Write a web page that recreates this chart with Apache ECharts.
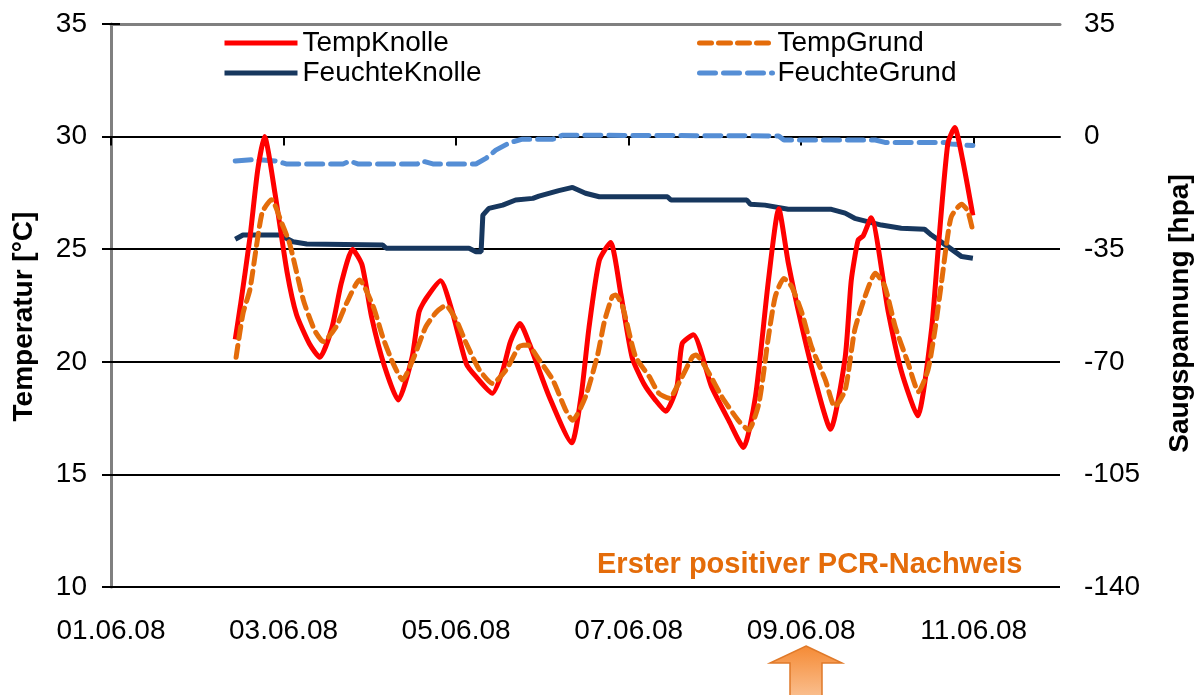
<!DOCTYPE html>
<html>
<head>
<meta charset="utf-8">
<script src="https://cdn.jsdelivr.net/npm/echarts@6/dist/echarts.min.js"></script>
<style>
  html, body { margin: 0; padding: 0; background: #fff; }
  #chart { width: 1202px; height: 695px; }
</style>
</head>
<body>
<div id="chart"></div>
<script>
// x = Tage seit 01.06.08
var dateLabels = ['01.06.08', '03.06.08', '05.06.08', '07.06.08', '09.06.08', '11.06.08'];

var tempKnolleDays = [1.44,1.50,1.61,1.70,1.78,1.90,2.04,2.15,2.30,2.42,2.56,2.67,2.80,2.91,3.02,3.17,3.33,3.49,3.57,3.65,3.82,3.95,4.12,4.24,4.42,4.54,4.63,4.74,4.85,5.08,5.34,5.45,5.54,5.66,5.79,5.91,6.04,6.18,6.31,6.43,6.56,6.62,6.75,6.96,7.16,7.33,7.47,7.62,7.74,7.85,8.00,8.16,8.34,8.51,8.58,8.66,8.72,8.81,9.01,9.16,9.35,9.51,9.59,9.70,9.78,9.87,9.99];
var tempKnolle = [21.0,22.5,25.5,28.5,30.0,27.5,24.0,22.1,20.8,20.2,21.5,23.5,25.0,24.3,22.0,19.8,18.3,20.2,22.2,22.8,23.6,22.3,19.9,19.3,18.6,19.6,20.9,21.7,20.8,18.45,16.4,18.5,21.5,24.5,25.3,23.0,20.2,19.0,18.3,17.8,18.9,20.8,21.2,18.9,17.4,16.2,18.45,23.6,26.8,24.4,21.7,19.2,17.0,20.2,23.6,25.4,25.6,26.4,22.2,19.6,17.6,21.4,25.1,29.7,30.4,29.0,26.5];

var tempGrundDays = [1.45,1.53,1.61,1.75,1.86,1.98,2.07,2.23,2.36,2.46,2.61,2.73,2.88,3.04,3.15,3.27,3.38,3.50,3.65,3.77,3.88,4.00,4.12,4.27,4.42,4.58,4.73,4.83,4.96,5.12,5.27,5.35,5.50,5.64,5.72,5.81,5.85,5.93,6.08,6.24,6.35,6.47,6.58,6.74,6.78,6.93,7.08,7.27,7.39,7.51,7.62,7.70,7.80,7.89,8.01,8.12,8.28,8.39,8.51,8.62,8.74,8.86,8.97,9.09,9.24,9.36,9.47,9.55,9.63,9.68,9.74,9.86,9.93,9.99];
var tempGrund = [20.2,22.15,23.2,26.6,27.2,26.15,25.26,22.74,21.4,20.9,21.56,22.6,23.63,22.45,21.1,19.93,19.2,20.1,21.56,22.2,22.5,21.86,20.8,19.64,19.04,19.64,20.67,20.75,20.1,19.2,17.86,17.4,18.45,20.3,21.8,22.9,22.97,22.45,20.23,19.34,18.6,18.38,19.04,20.23,20.3,19.5,18.45,17.4,16.97,18.16,21.1,22.9,23.7,23.34,22.15,20.67,19.2,18.0,18.75,21.4,22.9,23.93,23.34,21.56,19.93,18.67,19.64,21.4,23.63,25.1,26.44,27.0,26.7,25.8];

var feuchteKnolleDays = [1.44,1.53,1.96,2.11,2.27,3.15,3.19,4.15,4.23,4.29,4.31,4.38,4.54,4.69,4.89,4.96,5.19,5.35,5.50,5.66,6.45,6.49,7.37,7.41,7.58,7.85,8.35,8.51,8.62,8.93,9.16,9.43,9.51,9.70,9.86,9.99];
var feuchteKnolle = [-31.9,-30.6,-30.6,-32.7,-33.4,-33.7,-34.7,-34.7,-35.8,-35.8,-24.4,-22.3,-21.3,-19.7,-19.2,-18.5,-16.8,-15.8,-17.6,-18.7,-18.7,-19.7,-19.7,-21.0,-21.3,-22.6,-22.6,-23.8,-25.4,-27.5,-28.5,-28.8,-30.6,-34.2,-37.3,-37.8];

var feuchteGrundDays = [1.44,1.65,1.92,2.03,2.69,2.77,2.86,3.55,3.61,3.73,4.23,4.35,4.46,4.62,4.77,5.12,5.23,5.66,7.74,7.80,8.86,8.97,9.66,9.74,9.99];
var feuchteGrund = [-7.6,-7.1,-7.6,-8.5,-8.5,-7.6,-8.5,-8.5,-7.6,-8.5,-8.5,-6.7,-4.2,-1.9,-0.8,-0.8,0.4,0.4,0.2,-1.05,-1.05,-1.8,-1.8,-2.3,-2.8];

function pairs(xs, ys) {
  return xs.map(function (x, i) { return [x, ys[i]]; });
}

var font = "'Liberation Sans', Arial, sans-serif";
var legendBase = {
  orient: 'vertical', top: 24,
  itemWidth: 73, itemHeight: 14, itemGap: 2,
  itemStyle: { color: 'rgba(0,0,0,0)', borderWidth: 0 },
  lineStyle: { width: 5 },
  textStyle: { fontSize: 28, color: '#000', lineHeight: 28, fontFamily: font }
};
var myChart = echarts.init(document.getElementById('chart'));
var option = {
  animation: false,
  textStyle: { fontFamily: font },
  legend: [
    Object.assign({}, legendBase, { left: 217, data: ['TempKnolle', 'FeuchteKnolle'] }),
    Object.assign({}, legendBase, { left: 692, data: ['TempGrund', 'FeuchteGrund'] })
  ],
  grid: { left: 111, right: 140, top: 24, bottom: 108 },
  xAxis: [
    {
      type: 'value', min: 0, max: 11, interval: 2,
      axisLine: { show: true, lineStyle: { color: '#000', width: 2 } },
      axisTick: { show: true, length: 9, lineStyle: { color: '#000', width: 2 } },
      axisLabel: {
        fontSize: 28, color: '#000', margin: 30, showMaxLabel: false,
        formatter: function (v) { return dateLabels[v / 2] || ''; }
      },
      splitLine: { show: false }
    },
    {
      type: 'value', position: 'top', min: 0, max: 11,
      axisLine: { show: true, lineStyle: { color: '#808080', width: 3 } },
      axisTick: { show: false }, axisLabel: { show: false }, splitLine: { show: false }
    }
  ],
  yAxis: [
    {
      type: 'value', min: 10, max: 35, interval: 5,
      name: 'Temperatur [°C]', nameLocation: 'middle', nameGap: 73,
      nameTextStyle: { fontSize: 28, fontWeight: 'bold', color: '#000', padding: [0, 22, 0, 0] },
      axisLine: { show: true, lineStyle: { color: '#111', width: 2 } },
      axisTick: { show: true, length: 9, lineStyle: { color: '#000', width: 2 } },
      axisLabel: { fontSize: 28, color: '#000', margin: 24 },
      splitLine: { show: true, lineStyle: { color: '#000', width: 2 } }
    },
    {
      type: 'value', min: -140, max: 35, interval: 35, position: 'right',
      name: 'Saugspannung [hpa]', nameLocation: 'middle', nameGap: 106,
      nameTextStyle: { fontSize: 28, fontWeight: 'bold', color: '#000', padding: [0, 16, 0, 0] },
      axisLine: { show: true, lineStyle: { color: '#808080', width: 3 } },
      axisTick: { show: true, length: 9, lineStyle: { color: '#000', width: 2 } },
      axisLabel: { fontSize: 28, color: '#000', margin: 24 },
      splitLine: { show: false }
    }
  ],
  graphic: [
    {
      type: 'text', left: 597, top: 550, z: 10,
      style: { text: 'Erster positiver PCR-Nachweis', fill: '#E46C0A', font: 'bold 29px ' + font }
    },
    {
      type: 'polygon', z: 10,
      shape: { points: [[806, 646], [842, 663], [822, 663], [822, 700], [790, 700], [790, 663], [770, 663]] },
      style: {
        fill: new echarts.graphic.LinearGradient(0, 0, 0, 1, [
          { offset: 0, color: '#F58A34' },
          { offset: 1, color: '#FAC396' }
        ]),
        stroke: '#E07A2A', lineWidth: 1.5
      }
    }
  ],
  series: [
    {
      name: 'FeuchteGrund', type: 'line', yAxisIndex: 1, symbol: 'none',
      lineStyle: { color: '#558ED5', width: 5, type: [16, 8], cap: 'round' },
      itemStyle: { color: '#558ED5' },
      data: pairs(feuchteGrundDays, feuchteGrund)
    },
    {
      name: 'FeuchteKnolle', type: 'line', yAxisIndex: 1, symbol: 'none',
      lineStyle: { color: '#17375E', width: 5 },
      itemStyle: { color: '#17375E' },
      data: pairs(feuchteKnolleDays, feuchteKnolle)
    },
    {
      name: 'TempKnolle', type: 'line', symbol: 'none', smooth: 0.2,
      lineStyle: { color: '#FF0000', width: 5 },
      itemStyle: { color: '#FF0000' },
      data: pairs(tempKnolleDays, tempKnolle)
    },
    {
      name: 'TempGrund', type: 'line', symbol: 'none', smooth: 0.2,
      lineStyle: { color: '#E46C0A', width: 5, type: [12, 7], cap: 'round' },
      itemStyle: { color: '#E46C0A' },
      data: pairs(tempGrundDays, tempGrund)
    }
  ]
};
myChart.setOption(option);
window.addEventListener('resize', function () { myChart.resize(); });
</script>
</body>
</html>
